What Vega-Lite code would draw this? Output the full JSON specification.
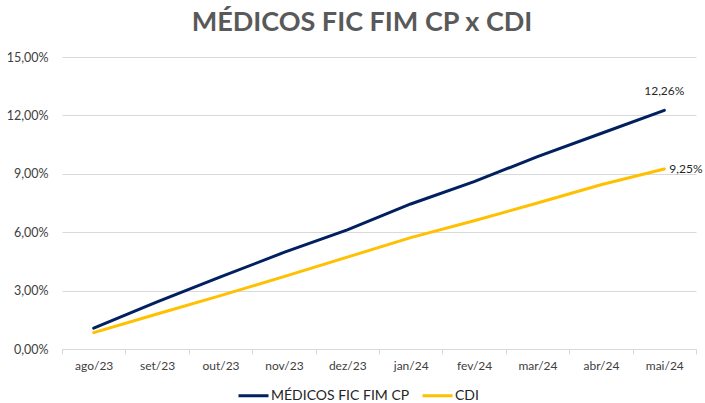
{
  "$schema": "https://vega.github.io/schema/vega-lite/v6.json",
  "width": 634,
  "height": 292,
  "autosize": {"type": "none"},
  "padding": {"left": 62, "top": 57, "right": 9, "bottom": 54},
  "background": "white",
  "title": {
    "text": "MÉDICOS FIC FIM CP x CDI",
    "font": "Lato",
    "fontSize": 27,
    "fontWeight": "bold",
    "color": "#595959",
    "anchor": "middle",
    "dx": -17,
    "offset": 14
  },
  "config": {"view": {"stroke": null}, "font": "Lato"},
  "data": {
    "values": [
      {"mes": "ago/23", "serie": "MÉDICOS FIC FIM CP", "valor": 1.07},
      {"mes": "set/23", "serie": "MÉDICOS FIC FIM CP", "valor": 2.42},
      {"mes": "out/23", "serie": "MÉDICOS FIC FIM CP", "valor": 3.70},
      {"mes": "nov/23", "serie": "MÉDICOS FIC FIM CP", "valor": 4.96},
      {"mes": "dez/23", "serie": "MÉDICOS FIC FIM CP", "valor": 6.12},
      {"mes": "jan/24", "serie": "MÉDICOS FIC FIM CP", "valor": 7.45},
      {"mes": "fev/24", "serie": "MÉDICOS FIC FIM CP", "valor": 8.60},
      {"mes": "mar/24", "serie": "MÉDICOS FIC FIM CP", "valor": 9.88},
      {"mes": "abr/24", "serie": "MÉDICOS FIC FIM CP", "valor": 11.07},
      {"mes": "mai/24", "serie": "MÉDICOS FIC FIM CP", "valor": 12.26},
      {"mes": "ago/23", "serie": "CDI", "valor": 0.84},
      {"mes": "set/23", "serie": "CDI", "valor": 1.80},
      {"mes": "out/23", "serie": "CDI", "valor": 2.74},
      {"mes": "nov/23", "serie": "CDI", "valor": 3.72},
      {"mes": "dez/23", "serie": "CDI", "valor": 4.72},
      {"mes": "jan/24", "serie": "CDI", "valor": 5.72},
      {"mes": "fev/24", "serie": "CDI", "valor": 6.59},
      {"mes": "mar/24", "serie": "CDI", "valor": 7.50},
      {"mes": "abr/24", "serie": "CDI", "valor": 8.44},
      {"mes": "mai/24", "serie": "CDI", "valor": 9.25}
    ]
  },
  "encoding": {
    "x": {
      "field": "mes",
      "type": "ordinal",
      "sort": ["ago/23", "set/23", "out/23", "nov/23", "dez/23", "jan/24", "fev/24", "mar/24", "abr/24", "mai/24"],
      "bandPosition": 0.5,
      "scale": {"type": "band", "paddingInner": 0, "paddingOuter": 0},
      "axis": {
        "title": null,
        "labelAngle": 0,
        "labelFont": "Lato",
        "labelFontSize": 12,
        "labelColor": "#404040",
        "labelPadding": 6,
        "tickBand": "extent",
        "ticks": true,
        "tickSize": 5,
        "tickColor": "#d9d9d9",
        "domainColor": "#d9d9d9",
        "domainWidth": 1,
        "grid": false
      }
    },
    "y": {
      "field": "valor",
      "type": "quantitative",
      "scale": {"domain": [0, 15], "nice": false},
      "axis": {
        "title": null,
        "values": [0, 3, 6, 9, 12, 15],
        "labelExpr": "replace(format(datum.value, '.2f'), '.', ',') + '%'",
        "labelFont": "Lato",
        "labelFontSize": 12.5,
        "labelColor": "#404040",
        "labelPadding": 14,
        "domain": false,
        "ticks": false,
        "grid": true,
        "gridColor": "#d9d9d9",
        "gridWidth": 1
      }
    }
  },
  "layer": [
    {
      "mark": {"type": "line", "strokeWidth": 3, "strokeCap": "round"},
      "encoding": {
        "color": {
          "field": "serie",
          "type": "nominal",
          "sort": ["MÉDICOS FIC FIM CP", "CDI"],
          "scale": {"domain": ["MÉDICOS FIC FIM CP", "CDI"], "range": ["#002060", "#FFC000"]},
          "legend": {
            "title": null,
            "orient": "none",
            "legendX": 175,
            "legendY": 322,
            "direction": "horizontal",
            "symbolType": "stroke",
            "symbolSize": 900,
            "symbolStrokeWidth": 3,
            "labelFont": "Lato",
            "labelFontSize": 14,
            "labelColor": "#262626",
            "labelOffset": 1,
            "columnPadding": 6
          }
        }
      }
    },
    {
      "transform": [
        {"filter": "datum.mes === 'mai/24' && datum.serie === 'MÉDICOS FIC FIM CP'"},
        {"calculate": "replace(format(datum.valor, '.2f'), '.', ',') + '%'", "as": "rotulo"}
      ],
      "mark": {"type": "text", "align": "center", "baseline": "middle", "dy": -19, "font": "Lato", "fontSize": 12, "color": "#262626"},
      "encoding": {"text": {"field": "rotulo", "type": "nominal"}}
    },
    {
      "transform": [
        {"filter": "datum.mes === 'mai/24' && datum.serie === 'CDI'"},
        {"calculate": "replace(format(datum.valor, '.2f'), '.', ',') + '%'", "as": "rotulo"}
      ],
      "mark": {"type": "text", "align": "left", "baseline": "middle", "dx": 5, "font": "Lato", "fontSize": 12, "color": "#262626"},
      "encoding": {"text": {"field": "rotulo", "type": "nominal"}}
    }
  ]
}
